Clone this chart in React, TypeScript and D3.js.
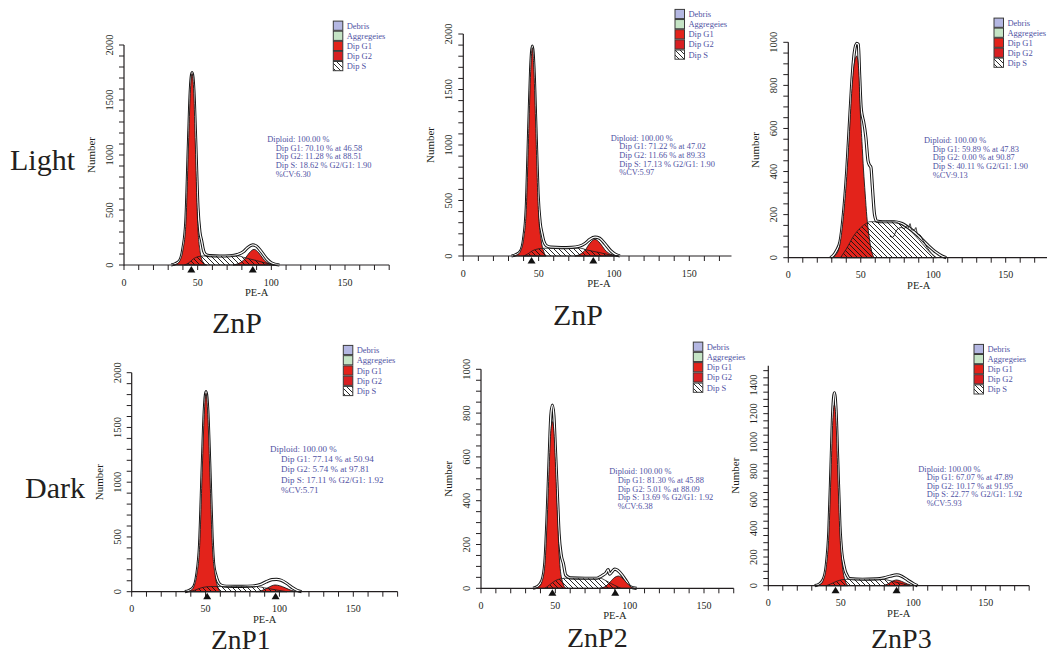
import React from 'react'
import * as d3 from 'd3'

type Pt = [number, number]

// text
const legendLabels = ['Debris', 'Aggregeies', 'Dip G1', 'Dip G2', 'Dip S']
const legendFills = ['#b4b7e2', '#c5e4c5', '#e3231b', '#d81f22', 'url(#hatchS)']
const rowLabels = ['Light', 'Dark']
const panelTitles = ['ZnP', 'ZnP', '', 'ZnP1', 'ZnP2', 'ZnP3']
const xTickLabels = [0, 50, 100, 150]

// Light, ZnP (left)
const la_g1: Pt[] = [[33, 0], [36, 10], [38, 40], [40, 136], [42, 380], [43.8, 1100], [45, 1560], [46.2, 1740], [47.4, 1560], [48.4, 1100], [50, 380], [51.8, 110], [53.5, 30], [56, 0]]
const la_g2: Pt[] = [[74, 0], [78, 15], [82, 55], [85, 110], [88.3, 142], [91.5, 110], [94.5, 55], [98, 15], [102, 0]]
const la_s: Pt[] = [[41, 0], [44, 20], [47, 55], [50, 75], [54, 82], [78, 82], [81, 70], [90, 40], [100, 5], [102, 0]]
const la_env: Pt[] = [[32, 0], [35, 12], [38, 45], [40, 150], [42, 400], [43.8, 1120], [45, 1580], [46.2, 1748], [47.4, 1590], [48.6, 1150], [50.2, 520], [51.5, 300], [52.7, 220], [54, 130], [55.5, 95], [58, 85], [65, 82], [72, 84], [77, 95], [81, 120], [84, 160], [87.4, 183], [90, 170], [93, 125], [96.9, 55], [100, 20], [105.5, 0]]
const la_marks = [45.7, 87.4]
const la_stats = ['Diploid: 100.00 %', 'Dip G1: 70.10 % at 46.58', 'Dip G2: 11.28 % at 88.51', 'Dip S: 18.62 % G2/G1: 1.90', '%CV:6.30']

// Light, ZnP (middle)
const lb_g1: Pt[] = [[33, 0], [36, 12], [38, 45], [40, 150], [41.8, 420], [43.5, 1150], [44.7, 1660], [45.8, 1877], [46.9, 1660], [48.1, 1150], [49.8, 420], [51.6, 150], [53.5, 35], [55, 0]]
const lb_g2: Pt[] = [[74, 0], [77.5, 15], [81, 55], [84, 115], [87.4, 150], [90.8, 115], [94, 55], [98, 15], [103, 0]]
const lb_s: Pt[] = [[40, 0], [43, 20], [46, 48], [50, 65], [53, 70], [78, 70], [81, 58], [90, 32], [100, 4], [103, 0]]
const lb_env: Pt[] = [[32, 0], [35, 12], [38, 45], [40, 150], [41.8, 430], [43.5, 1170], [44.7, 1680], [45.8, 1890], [46.9, 1690], [48.1, 1190], [49.6, 560], [51, 300], [52.3, 200], [53.5, 130], [55, 95], [58, 80], [65, 76], [72, 78], [77, 88], [81, 115], [84, 150], [87.4, 170], [90.5, 160], [94, 110], [98, 45], [101, 15], [104, 0]]
const lb_marks = [45.3, 86.3]
const lb_stats = ['Diploid: 100.00 %', 'Dip G1: 71.22 % at 47.02', 'Dip G2: 11.66 % at 89.33', 'Dip S: 17.13 % G2/G1: 1.90', '%CV:5.97']

// Light (right)
const lc_g1: Pt[] = [[30, 0], [33, 15], [35.7, 65], [38, 190], [40.3, 376], [42, 560], [43.7, 763], [45.5, 900], [47.2, 936], [48.5, 880], [49.6, 690], [50.8, 540], [51.9, 407], [53, 300], [54.2, 190], [55.5, 110], [57, 45], [59, 0]]
const lc_g2: Pt[] = []
const lc_s: Pt[] = [[36, 0], [40, 40], [45, 100], [50, 140], [54, 160], [56, 167], [73, 167], [76, 160], [80, 145], [85, 120], [90, 85], [95, 45], [100, 10], [102, 0]]
const lc_env: Pt[] = [[29, 0], [31, 10], [33, 30], [35.7, 75], [38, 200], [40.3, 400], [42, 600], [43.7, 800], [45.5, 950], [47.2, 995], [48.3, 990], [49.2, 850], [50.2, 700], [51, 660], [52, 630], [53.5, 560], [55, 450], [56, 430], [57, 420], [58, 330], [59.5, 200], [61, 170], [65, 167], [73, 167], [78, 160], [84, 135], [90, 100], [96, 60], [102, 25], [106, 8], [109, 0]]
const lc_raw: Pt[] = [[70, 100], [72, 95], [75, 130], [78, 140], [80, 135], [82, 150], [83, 140], [84, 158], [85, 130], [87, 128], [88, 140], [89, 112], [91, 105], [93, 80], [96, 45], [100, 12], [102, 0]]
const lc_marks: number[] = []
const lc_stats = ['Diploid: 100.00 %', 'Dip G1: 59.89 % at 47.83', 'Dip G2: 0.00 % at 90.87', 'Dip S: 40.11 % G2/G1: 1.90', '%CV:9.13']

// Dark, ZnP1
const d1_g1: Pt[] = [[37, 0], [40, 12], [42, 45], [44, 150], [46, 420], [47.8, 1130], [49.1, 1620], [50.3, 1812], [51.5, 1620], [52.8, 1130], [54.6, 420], [56.5, 150], [58.5, 35], [60, 0]]
const d1_g2: Pt[] = [[84, 0], [88, 10], [92, 35], [95, 55], [97, 61], [100, 55], [104, 35], [108, 12], [113, 0]]
const d1_s: Pt[] = [[39, 0], [43, 15], [47, 35], [51, 45], [55, 47], [85, 47], [90, 35], [97, 18], [105, 0]]
const d1_env: Pt[] = [[36, 0], [39, 12], [42, 45], [44, 150], [46, 440], [47.8, 1150], [49.1, 1640], [50.3, 1827], [51.5, 1650], [52.8, 1170], [54.4, 500], [55.5, 250], [57, 150], [58.5, 90], [60.5, 60], [64, 50], [75, 48], [82, 52], [87, 65], [91, 90], [95, 110], [98, 113], [101, 105], [105, 75], [109, 35], [112, 12], [115, 0]]
const d1_marks = [51.1, 97.4]
const d1_stats = ['Diploid: 100.00 %', 'Dip G1: 77.14 % at 50.94', 'Dip G2: 5.74 % at 97.81', 'Dip S: 17.11 % G2/G1: 1.92', '%CV:5.71']

// Dark, ZnP2
const d2_g1: Pt[] = [[36, 0], [39, 8], [41, 30], [43, 110], [44.6, 330], [46, 580], [47, 720], [48, 761], [49, 720], [50, 580], [51.4, 330], [53, 110], [55, 25], [57, 0]]
const d2_g2: Pt[] = [[80, 0], [84, 10], [87, 30], [90, 50], [92.4, 56], [95, 47], [98, 25], [101, 6], [103, 0]]
const d2_s: Pt[] = [[43, 0], [46, 15], [50, 35], [54, 44], [57, 46], [80, 46], [84, 35], [88, 20], [94, 0]]
const d2_env: Pt[] = [[35, 0], [38, 8], [41, 35], [43, 120], [44.6, 350], [46, 620], [47, 790], [48, 836], [49, 790], [50, 640], [51.4, 420], [52.5, 250], [54, 150], [55.4, 114], [57, 60], [60, 48], [70, 46], [78, 46], [80, 52], [82, 60], [84, 70], [85.5, 85], [86.5, 65], [88, 75], [90, 88], [92, 82], [95, 60], [98, 30], [100.2, 8], [104.7, 0]]
const d2_marks = [48, 90.3]
const d2_stats = ['Diploid: 100.00 %', 'Dip G1: 81.30 % at 45.88', 'Dip G2: 5.01 % at 88.09', 'Dip S: 13.69 % G2/G1: 1.92', '%CV:6.38']

// Dark, ZnP3
const d3_g1: Pt[] = [[33, 0], [36, 10], [38, 40], [40, 130], [41.8, 360], [43.3, 800], [44.5, 1150], [45.6, 1260], [46.7, 1150], [47.9, 800], [49.4, 360], [51.2, 130], [53, 35], [55, 0]]
const d3_g2: Pt[] = [[79, 0], [82, 10], [85, 28], [88.6, 40], [92, 30], [96, 12], [100, 0]]
const d3_s: Pt[] = [[40, 0], [43, 12], [47, 30], [51, 42], [55, 45], [79, 45], [84, 35], [90, 20], [98, 0]]
const d3_env: Pt[] = [[32, 0], [35, 10], [38, 45], [40, 140], [41.8, 380], [43.3, 840], [44.5, 1220], [45.6, 1346], [46.7, 1230], [47.9, 870], [49.4, 420], [50.8, 220], [52, 150], [52.9, 109], [54.5, 70], [56, 50], [65, 45], [75, 47], [80, 55], [84, 66], [88.6, 75], [92, 66], [96, 40], [100, 15], [103, 0]]
const d3_marks = [46.4, 88.5]
const d3_stats = ['Diploid: 100.00 %', 'Dip G1: 67.07 % at 47.89', 'Dip G2: 10.17 % at 91.95', 'Dip S: 22.77 % G2/G1: 1.92', '%CV:5.93']

// where each panel sits on the page
const layouts = [
  { x0: 124, x150: 345, y0: 265, yRefPx: 45, yRef: 2000, xMax: 180, yMax: 2000, yStep: 100, yLab: 500, leg: [333.3, 25.7, 10.1], st: [267.3, 142, 8.7, 8.5, 8.4] },
  { x0: 463.3, x150: 689.3, y0: 256, yRefPx: 34, yRef: 2000, xMax: 178, yMax: 2000, yStep: 100, yLab: 500, leg: [675, 14, 10.15], st: [610.7, 140.5, 8.7, 8.6, 8.4] },
  { x0: 788.3, x150: 1005.7, y0: 257.7, yRefPx: 42.3, yRef: 1000, xMax: 180, yMax: 1000, yStep: 50, yLab: 200, leg: [994, 22.7, 10], st: [924, 143, 8.7, 8.7, 8.4] },
  { x0: 131.7, x150: 353.3, y0: 591.7, yRefPx: 372.7, yRef: 2000, xMax: 180, yMax: 2000, yStep: 100, yLab: 500, leg: [343.3, 350, 10.25], st: [270, 452, 10.2, 11, 9] },
  { x0: 481, x150: 704, y0: 588.3, yRefPx: 369.3, yRef: 1000, xMax: 170, yMax: 1000, yStep: 50, yLab: 200, leg: [693.3, 346.7, 10.25], st: [609.3, 474, 8.75, 8.4, 8.4] },
  { x0: 768.3, x150: 985.7, y0: 585.7, yRefPx: 385, yRef: 1400, xMax: 180, yMax: 1535, yStep: 50, yLab: 200, leg: [974, 349, 10.1], st: [918.3, 471.5, 8.6, 8.4, 8.4] },
]
const titlePos = [[212, 333, 30], [553, 325, 30], [0, 0, 30], [211, 648.5, 27.5], [567, 647, 28], [871, 648, 28]]
const rowPos = [[10, 170], [25, 498]]

const panels = [
  { g1: la_g1, g2: la_g2, s: la_s, env: la_env, raw: null, marks: la_marks, stats: la_stats },
  { g1: lb_g1, g2: lb_g2, s: lb_s, env: lb_env, raw: null, marks: lb_marks, stats: lb_stats },
  { g1: lc_g1, g2: lc_g2, s: lc_s, env: lc_env, raw: lc_raw, marks: lc_marks, stats: lc_stats },
  { g1: d1_g1, g2: d1_g2, s: d1_s, env: d1_env, raw: null, marks: d1_marks, stats: d1_stats },
  { g1: d2_g1, g2: d2_g2, s: d2_s, env: d2_env, raw: null, marks: d2_marks, stats: d2_stats },
  { g1: d3_g1, g2: d3_g2, s: d3_s, env: d3_env, raw: null, marks: d3_marks, stats: d3_stats },
]

const ink = '#231f20'
const blue = '#4f52a3'
const red = '#e3231b'

function Panel({ p, L }: { p: any; L: any }) {
  const x = d3.scaleLinear().domain([0, 150]).range([L.x0, L.x150])
  const y = d3.scaleLinear().domain([0, L.yRef]).range([L.y0, L.yRefPx])
  const area = d3.area<Pt>().x(d => x(d[0])).y0(y(0)).y1(d => y(d[1])).curve(d3.curveMonotoneX)
  const line = d3.line<Pt>().x(d => x(d[0])).y(d => y(d[1])).curve(d3.curveMonotoneX)
  const xTicks = d3.range(0, L.xMax + 0.01, 10)
  const yTicks = d3.range(0, L.yMax + 0.01, L.yStep)
  const yLabels = d3.range(0, L.yMax + 0.01, L.yLab).filter(v => v <= L.yRef)
  const [lx, ly, lstep] = L.leg
  const [sx, sy, sstep, sind, ssize] = L.st

  return (
    <g>
      {/* model envelope: white band between two black lines */}
      <path d={area(p.env) || ''} fill="white" />
      <path d={line(p.env) || ''} fill="none" stroke="#111" strokeWidth={3.2} strokeLinejoin="round" />
      <path d={line(p.env) || ''} fill="none" stroke="white" strokeWidth={1.3} strokeLinejoin="round" />
      <path d={area(p.g1) || ''} fill={red} stroke="#1a1a1a" strokeWidth={0.9} />
      {p.g2.length > 0 && <path d={area(p.g2) || ''} fill={red} stroke="#1a1a1a" strokeWidth={0.9} />}
      <path d={area(p.s) || ''} fill="url(#hatchS)" stroke="#1a1a1a" strokeWidth={0.8} />
      {p.raw && <path d={line(p.raw) || ''} fill="none" stroke="#111" strokeWidth={0.9} />}

      {/* axes */}
      <line x1={x(0)} x2={x(L.xMax)} y1={L.y0} y2={L.y0} stroke={ink} strokeWidth={1.2} />
      <line x1={x(0)} x2={x(0)} y1={L.y0 + 0.6} y2={y(L.yMax)} stroke={ink} strokeWidth={1.2} />
      {xTicks.map(t => (
        <line key={'xt' + t} x1={x(t)} x2={x(t)} y1={L.y0} y2={L.y0 + 5} stroke={ink} strokeWidth={1} />
      ))}
      {yTicks.map(t => (
        <line key={'yt' + t} x1={L.x0 - 5} x2={L.x0} y1={y(t)} y2={y(t)} stroke={ink} strokeWidth={1} />
      ))}
      {xTickLabels.filter(t => t <= L.xMax).map(t => (
        <text key={'xl' + t} x={x(t)} y={L.y0 + 20.5} textAnchor="middle" fontSize={10} fill={ink}>{t}</text>
      ))}
      {yLabels.map(t => (
        <text key={'yl' + t} transform={`translate(${L.x0 - 11},${y(t)}) rotate(-90)`} textAnchor="middle" fontSize={10.5} fill={ink}>{t}</text>
      ))}
      <text transform={`translate(${L.x0 - 29},${(L.y0 + y(L.yMax)) / 2}) rotate(-90)`} textAnchor="middle" fontSize={11} fill={ink}>Number</text>
      <text x={x(90)} y={L.y0 + 31} textAnchor="middle" fontSize={10.5} fill={ink}>PE-A</text>

      {/* peak markers */}
      {p.marks.map((m: number) => (
        <path key={'m' + m} d={`M${x(m) - 4},${L.y0 + 7.5} L${x(m) + 4},${L.y0 + 7.5} L${x(m)},${L.y0 + 1} Z`} fill="#111" />
      ))}

      {/* legend */}
      {legendLabels.map((lab, i) => (
        <g key={lab}>
          <rect x={lx} y={ly + i * lstep - 4.6} width={9.5} height={9.2} fill="white" />
          <rect x={lx} y={ly + i * lstep - 4.6} width={9.5} height={9.2} fill={legendFills[i]} stroke="#3a3a3a" strokeWidth={1} />
          <text x={lx + 13.4} y={ly + i * lstep + 3} fontSize={8.5} fill={blue}>{lab}</text>
        </g>
      ))}

      {/* fit statistics */}
      {p.stats.map((s: string, i: number) => (
        <text key={s} x={i === 0 ? sx : sx + sind} y={sy + i * sstep} fontSize={ssize} fill={blue}>{s}</text>
      ))}
    </g>
  )
}

export default function App() {
  return (
    <svg width={1047} height={653} style={{ position: 'absolute', left: 0, top: 0, background: 'white' }}
      fontFamily="'Liberation Serif', 'Times New Roman', serif">
      <defs>
        <pattern id="hatchS" patternUnits="userSpaceOnUse" width={5} height={5}>
          <path d="M0,0 L5,5 M-1,4 L1,6 M4,-1 L6,1" stroke="#111" strokeWidth={0.9} />
        </pattern>
      </defs>
      <rect width={1047} height={653} fill="white" />
      {panels.map((p, i) => <Panel key={i} p={p} L={layouts[i]} />)}
      {panelTitles.map((t, i) => t ? (
        <text key={'t' + i} x={titlePos[i][0]} y={titlePos[i][1]} fontSize={titlePos[i][2]} fill={ink}>{t}</text>
      ) : null)}
      {rowLabels.map((t, i) => (
        <text key={t} x={rowPos[i][0]} y={rowPos[i][1]} fontSize={30} fill={ink}>{t}</text>
      ))}
    </svg>
  )
}
